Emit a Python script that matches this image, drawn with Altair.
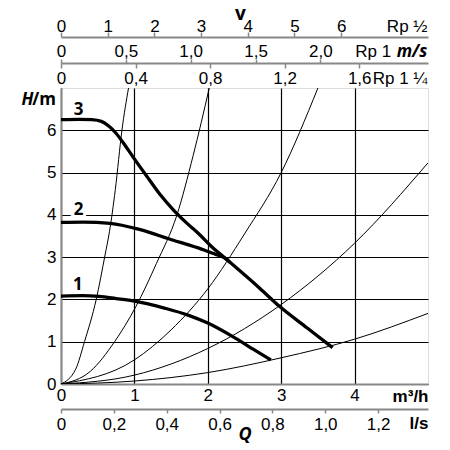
import altair as alt
import pandas as pd

FONT = "Open Sans"
FS = 17

# ---- system (pipe) curves, Q in m3/h, H in m ----
sys_a_q = [0, 0.2, 0.32, 0.48, 0.6, 0.66, 0.74, 0.83, 0.92]
sys_a_h = [0, 0.35, 1.0, 2.0, 3.05, 3.6, 4.6, 6.0, 7.0]
sys_b_q = [0, 0.4, 0.73, 1.02, 1.3, 1.58, 1.8, 2.02]
sys_b_h = [0, 0.3, 1.0, 1.83, 2.85, 4.0, 5.4, 7.0]
sys_c_q = [0, 1.0, 1.5, 2.0, 2.5, 3.0, 3.5]
sys_c_h = [0, 0.57, 1.28, 2.25, 3.55, 5.0, 7.0]
sys_d_q = [0, 1, 2, 3, 4, 5]
sys_d_h = [0, 0.21, 0.84, 1.88, 3.33, 5.23]
sys_e_q = [0, 1, 2, 3, 4, 5]
sys_e_h = [0, 0.07, 0.27, 0.62, 1.06, 1.67]

# ---- pump curves ----
pump1_q = [0, 0.3, 0.52, 0.75, 1.0, 1.42, 1.73, 2.0, 2.34, 2.64, 2.86]
pump1_h = [2.08, 2.09, 2.07, 2.02, 1.96, 1.79, 1.63, 1.44, 1.12, 0.80, 0.57]
pump2_q = [0, 0.3, 0.67, 1.08, 1.53, 1.76, 1.95, 2.1, 2.23, 2.30]
pump2_h = [3.82, 3.83, 3.80, 3.65, 3.40, 3.28, 3.17, 3.07, 2.98, 2.88]
pump3_q = [0, 0.25, 0.42, 0.55, 0.65, 0.75, 0.85, 0.985, 1.17, 1.35, 1.53, 1.71, 1.89, 2.05, 2.26, 2.71, 2.98, 3.35, 3.70]
pump3_h = [6.25, 6.26, 6.25, 6.21, 6.10, 5.93, 5.70, 5.36, 4.91, 4.48, 4.12, 3.81, 3.53, 3.25, 2.94, 2.26, 1.83, 1.33, 0.86]

# ---- curve labels ----
lab_text = ["1", "2", "3"]
lab_q = [0.23, 0.24, 0.24]
lab_h = [2.22, 3.99, 6.35]

# ---- axis ticks ----
q_ticks = [0, 1, 2, 3, 4]
h_ticks = [0, 1, 2, 3, 4, 5, 6]
ls_ticks = [0, 0.2, 0.4, 0.6, 0.8, 1.0, 1.2]
rp12_ticks = [0, 1, 2, 3, 4, 5, 6]
rp1_ticks = [0, 0.5, 1.0, 1.5, 2.0]
rp114_ticks = [0, 0.4, 0.8, 1.2, 1.6]

Q_MAX = 5.0
H_MAX = 7.0
LS_MAX = 5.0 / 3.6
RP12_MAX = 7.86
RP1_MAX = 2.83
RP114_MAX = 1.969

W, H = 367, 296

def frame(pairs):
    rows = []
    for name, qs, hs in pairs:
        for q, h in zip(qs, hs):
            rows.append({"curve": name, "Q": q, "H": h})
    return pd.DataFrame(rows)

df_sys = frame([("a", sys_a_q, sys_a_h), ("b", sys_b_q, sys_b_h), ("c", sys_c_q, sys_c_h),
                ("d", sys_d_q, sys_d_h), ("e", sys_e_q, sys_e_h)])
df_pump = frame([("1", pump1_q, pump1_h), ("2", pump2_q, pump2_h), ("3", pump3_q, pump3_h)])
df_lab = pd.DataFrame({"t": lab_text, "Q": lab_q, "H": lab_h})

comma = "datum.value == 0 ? '0' : replace(format(datum.value, '.1f'), '.', ',')"

x_axis = alt.Axis(orient="bottom", values=q_ticks, grid=True, gridColor="black", gridWidth=1.2,
                  gridOpacity=1, ticks=False, domain=True, domainWidth=2, labelPadding=3,
                  labelFontSize=FS, labelFlush=False, title="m³/h", titleFontSize=FS,
                  titleFontWeight="bold", titleAngle=0, titleX=W, titleY=17.7, titleAlign="right",
                  titleBaseline="alphabetic", titleAnchor="end")
y_axis = alt.Axis(values=h_ticks, grid=True, gridColor="black", gridWidth=1.2, gridOpacity=1,
                  ticks=False, domain=True, domainWidth=2, labelPadding=5, labelFontSize=FS,
                  title=None)

xq = alt.X("Q:Q", scale=alt.Scale(domain=[0, Q_MAX], nice=False, zero=False), axis=x_axis)
yh = alt.Y("H:Q", scale=alt.Scale(domain=[0, H_MAX], nice=False, zero=False), axis=y_axis)

sys_layer = alt.Chart(df_sys).mark_line(color="black", strokeWidth=1, interpolate="monotone",
                                        clip=True).encode(x=xq, y=yh, detail="curve:N")
pump_layer = alt.Chart(df_pump).mark_line(color="black", strokeWidth=3.3, interpolate="monotone",
                                          clip=True).encode(x=xq, y=yh, detail="curve:N")
lab_halo = alt.Chart(df_lab).mark_text(font=FONT, fontSize=FS, fontWeight="bold", baseline="alphabetic",
                                       stroke="white", strokeWidth=6, color="white").encode(x=xq, y=yh, text="t:N")
lab_layer = alt.Chart(df_lab).mark_text(font=FONT, fontSize=FS, fontWeight="bold", baseline="alphabetic",
                                        color="black").encode(x=xq, y=yh, text="t:N")

main = alt.layer(sys_layer, lab_halo, pump_layer, lab_layer)

def axis_layer(ticks, vmax, axis):
    return alt.Chart(pd.DataFrame({"v": ticks})).mark_point(opacity=0).encode(
        x=alt.X("v:Q", scale=alt.Scale(domain=[0, vmax], nice=False, zero=False), axis=axis))

ax_ls = axis_layer(ls_ticks, LS_MAX, alt.Axis(
    orient="bottom", offset=25, values=ls_ticks, grid=False, domain=True, domainWidth=2,
    tickSize=4, tickWidth=1.5, labelPadding=3, labelFontSize=FS, labelFlush=False, labelExpr=comma,
    labelOverlap=False, title="l/s", titleFontSize=FS, titleFontWeight="bold", titleX=W, titleY=19.5,
    titleAlign="right", titleBaseline="alphabetic", titleAnchor="end"))

ax_rp12 = axis_layer(rp12_ticks, RP12_MAX, alt.Axis(
    orient="top", offset=51, values=rp12_ticks, grid=False, domain=True, domainWidth=2,
    tickSize=5, tickWidth=1.5, labelPadding=0.5, labelBaseline="alphabetic", labelFontSize=FS,
    labelFlush=False, labelOverlap=False, title="Rp ½", titleFontSize=FS, titleFontWeight="normal",
    titleX=W - 1, titleY=-5.2, titleAlign="right", titleBaseline="alphabetic", titleAnchor="end"))

ax_rp1 = axis_layer(rp1_ticks, RP1_MAX, alt.Axis(
    orient="top", offset=25, values=rp1_ticks, grid=False, domain=True, domainWidth=2,
    tickSize=4, tickWidth=1.5, labelPadding=2.5, labelBaseline="alphabetic", labelFontSize=FS,
    labelFlush=False, labelOverlap=False, labelExpr=comma, title="Rp 1", titleFontSize=FS,
    titleFontWeight="normal", titleX=329.7, titleY=-6.6, titleAlign="right",
    titleBaseline="alphabetic", titleAnchor="end"))

ax_rp114 = axis_layer(rp114_ticks, RP114_MAX, alt.Axis(
    orient="bottom", offset=-(H + 25), values=rp114_ticks, grid=False, domain=False,
    tickSize=5, tickWidth=1.5, labelPadding=2.5, labelFontSize=FS, labelFlush=False,
    labelOverlap=False, labelExpr=comma, title="Rp 1 ¼", titleFontSize=FS, titleFontWeight="normal",
    titleX=W - 1, titleY=20, titleAlign="right", titleBaseline="alphabetic", titleAnchor="end"))

one = pd.DataFrame({"k": [0]})

def note(text, x, y, size, weight="bold", style="normal", align="center"):
    return alt.Chart(one).mark_text(font=FONT, fontSize=size, fontWeight=weight, fontStyle=style,
                                    align=align, baseline="alphabetic", color="black").encode(
        x=alt.value(x), y=alt.value(y), text=alt.value(text))

notes = alt.layer(
    note("v", 179.5, -68.2, 19),
    note("Q", 184, 352, 18, style="italic"),
    note("H", -27.7, 17, FS, style="italic", align="right"),
    note("/m", -5, 17, FS, align="right"),
    note("m/s", 366.3, -31.3, FS, style="italic", align="right"),
)

chart = alt.layer(main, ax_ls, ax_rp12, ax_rp1, ax_rp114, notes).resolve_scale(
    x="independent"
).properties(
    width=W, height=H,
    autosize=alt.AutoSizeParams(type="none"),
    padding={"left": 53, "top": 80, "right": 14, "bottom": 62},
).configure_view(stroke="black", strokeWidth=2).configure_axis(
    labelFont=FONT, titleFont=FONT, labelColor="black", titleColor="black",
    domainColor="black", tickColor="black"
).configure(background="white")

chart.save("out.html", embed_options={"renderer": "svg", "actions": False})
